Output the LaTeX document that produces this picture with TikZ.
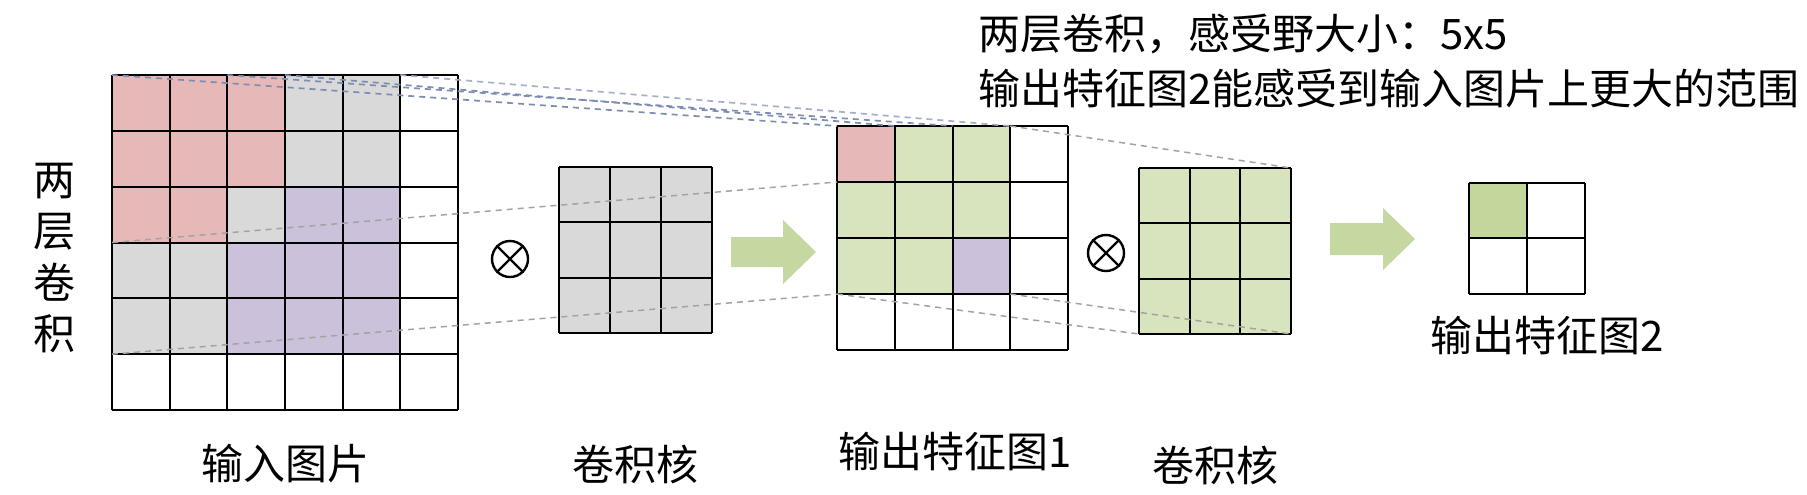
\documentclass[tikz,border=0pt]{standalone}
\usepackage{fontspec}
\newfontfamily\cjk{Noto Sans CJK SC}
\definecolor{cpink}{HTML}{E6B9B8}
\definecolor{cgray}{HTML}{D9D9D9}
\definecolor{cpurple}{HTML}{CCC1DA}
\definecolor{cgreen}{HTML}{D7E4BD}
\definecolor{cgreendk}{HTML}{C3D69B}
\definecolor{carrow}{HTML}{C6D8A2}
\definecolor{cdashgray}{HTML}{A3A3A3}
\definecolor{cdashblue}{HTML}{7D8DB2}
\tikzset{
  gridline/.style={line width=1pt, black},
  thingrid/.style={line width=0.9pt, black},
  dashln/.style={dash pattern=on 3pt off 2.5pt, line width=0.75pt, cdashgray},
  dashblue/.style={dash pattern=on 3pt off 2.5pt, line width=0.85pt, cdashblue},
  bigarrow/.style={fill=carrow, draw=none},
  otimesnode/.style={circle, draw, line width=1.2pt, minimum size=18pt, inner sep=0pt},
  lbl/.style={font=\cjk\fontsize{21pt}{25pt}\selectfont, inner sep=0pt},
  toplbl/.style={font=\cjk\fontsize{21pt}{25pt}\selectfont, inner sep=0pt, anchor=west},
}
\begin{document}
\begin{tikzpicture}[x=0.5pt,y=-0.5pt]
\fill[white] (0,0) rectangle (1807,494);
\useasboundingbox (0,0) rectangle (1807,494);

% ---------- input image 6x6 ----------
\def\icw{57.667}\def\ich{55.833}
\fill[cgray] (112,75) rectangle (400.33,354.17);
\fill[cpink] (112,75) rectangle (285,186.67);
\fill[cpink] (112,186.67) rectangle (227.33,242.5);
\fill[cpurple] (285,186.67) rectangle (400.33,242.5);
\fill[cpurple] (227.33,242.5) rectangle (400.33,354.17);
\foreach \i in {0,...,6} \draw[gridline] (112+\i*\icw,75) -- (112+\i*\icw,410);
\foreach \j in {0,...,6} \draw[gridline] (112,75+\j*\ich) -- (458,75+\j*\ich);
\coordinate (inTL) at (112,75);
\coordinate (inPinkTR) at (285,75);
\coordinate (inMid) at (227.33,75);
\coordinate (inGrayTR) at (400.33,75);
\coordinate (inPinkBL) at (112,242.5);
\coordinate (inGrayBL) at (112,354.17);

% ---------- kernel 1 ----------
\fill[cgray] (559,167) rectangle (712,333);
\foreach \i in {0,...,3} \draw[gridline] (559+\i*51,167) -- (559+\i*51,333);
\foreach \j in {0,...,3} \draw[gridline] (559,167+\j*55.333) -- (712,167+\j*55.333);

% ---------- output 1 4x4 ----------
\def\ocw{57.75}\def\och{56}
\fill[cpink] (837,126) rectangle (894.75,182);
\fill[cgreen] (894.75,126) rectangle (1010.25,182);
\fill[cgreen] (837,182) rectangle (1010.25,238);
\fill[cgreen] (837,238) rectangle (952.5,294);
\fill[cpurple] (952.5,238) rectangle (1010.25,294);
\foreach \i in {0,...,4} \draw[gridline] (837+\i*\ocw,126) -- (837+\i*\ocw,350);
\foreach \j in {0,...,4} \draw[gridline] (837,126+\j*\och) -- (1068,126+\j*\och);
\coordinate (o1TL) at (837,126);
\coordinate (o1C1) at (894.75,126);
\coordinate (o1C2) at (952.5,126);
\coordinate (o1TR) at (1010.25,126);
\coordinate (o1PinkBL) at (837,182);
\coordinate (o1BL) at (837,294);
\coordinate (o1BR) at (1010.25,294);

% ---------- kernel 2 ----------
\fill[cgreen] (1139,168) rectangle (1291,334);
\foreach \i in {0,...,3} \draw[gridline] (1139+\i*50.667,168) -- (1139+\i*50.667,334);
\foreach \j in {0,...,3} \draw[gridline] (1139,168+\j*55.333) -- (1291,168+\j*55.333);
\coordinate (k2TR) at (1291,168);
\coordinate (k2BL) at (1139,334);
\coordinate (k2BR) at (1291,334);

% ---------- output 2 2x2 ----------
\fill[cgreendk] (1469,183) rectangle (1527,238);
\foreach \i in {0,...,2} \draw[thingrid] (1469+\i*58,183) -- (1469+\i*58,294);
\foreach \j in {0,1} \draw[thingrid] (1469,183+\j*55) -- (1585,183+\j*55);
\draw[thingrid] (1469,294) -- (1585,294);

% ---------- otimes ----------
\node[otimesnode] (ot1) at (510,259) {};
\draw[line width=1.2pt] (ot1.north east) -- (ot1.south west) (ot1.north west) -- (ot1.south east);
\node[otimesnode] (ot2) at (1106,253) {};
\draw[line width=1.2pt] (ot2.north east) -- (ot2.south west) (ot2.north west) -- (ot2.south east);

% ---------- arrows ----------
\fill[bigarrow] (731,237) -- (783,237) -- (783,220) -- (816,252) -- (783,284) -- (783,267) -- (731,267) -- cycle;
\fill[bigarrow] (1330,223) -- (1383,223) -- (1383,208) -- (1415,239) -- (1383,270) -- (1383,255) -- (1330,255) -- cycle;

% ---------- dashed projection lines ----------
\draw[dashblue, cdashblue!70] (inGrayTR) -- (o1TR);
\draw[dashblue] (inPinkTR) -- (o1C1);
\draw[dashblue] (inMid) -- (o1C2);
\draw[dashblue] (inTL) -- (o1TL);
\draw[dashln] (inPinkBL) -- (o1PinkBL);
\draw[dashln] (inGrayBL) -- (o1BL);
\draw[dashln] (o1TR) -- (k2TR);
\draw[dashln] (o1BL) -- (k2BL);
\draw[dashln] (o1BR) -- (k2BR);

% ---------- labels ----------
\node[lbl, align=center, font=\cjk\fontsize{21pt}{25.75pt}\selectfont] (side) at (54,258) {两\\层\\卷\\积};
\node[lbl] (lin) at (285,464) {输入图片};
\node[lbl] (lk1) at (635,464) {卷积核};
\node[lbl] (lo1) at (955,451) {输出特征图1};
\node[lbl] (lk2) at (1215,465) {卷积核};
\node[lbl] (lo2) at (1547,335) {输出特征图2};
\node[toplbl] (t1) at (978,34) {两层卷积，感受野大小：5x5};
\node[toplbl] (t2) at (978,88) {输出特征图2能感受到输入图片上更大的范围};
\end{tikzpicture}
\end{document}
